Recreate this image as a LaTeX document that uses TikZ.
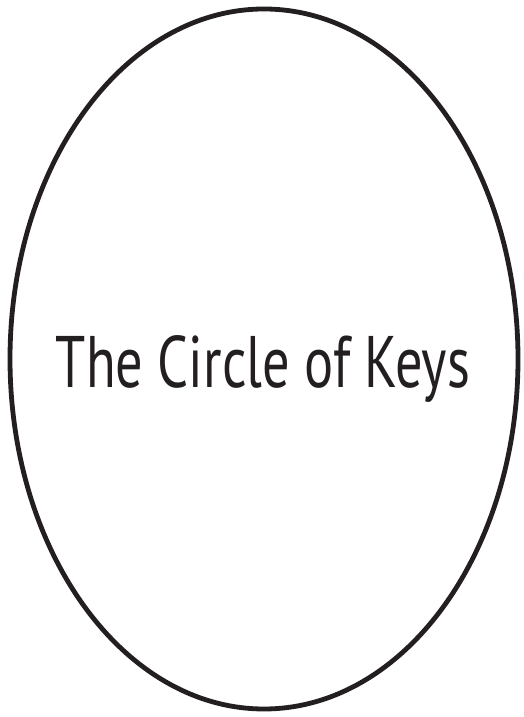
\documentclass[tikz,border=0pt]{standalone}
\usepackage{fontspec}
\setmainfont{PT Sans}
\definecolor{inkgray}{HTML}{231F20}
\begin{document}
\begin{tikzpicture}[x=1pt, y=1pt]
    \useasboundingbox (0,0) rectangle (523,717);
    \draw[line width=4.8pt, inkgray] (264,358) ellipse (254 and 350);
    \node[inkgray, font=\fontsize{73}{80}\selectfont, inner sep=0pt, xscale=0.745]
        (title) at (263,348) {The Circle of Keys};
\end{tikzpicture}
\end{document}
